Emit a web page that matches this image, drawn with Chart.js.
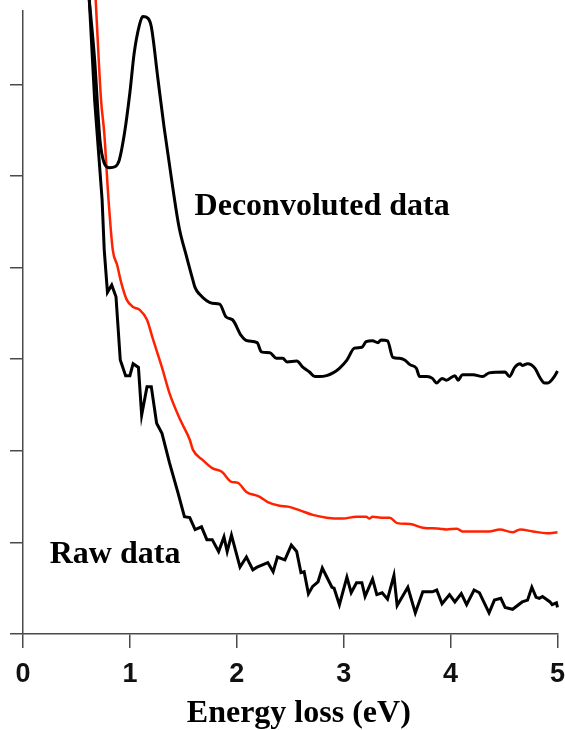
<!DOCTYPE html>
<html>
<head>
<meta charset="utf-8">
<script src="https://cdn.jsdelivr.net/npm/chart.js@4.4.1/dist/chart.umd.min.js"></script>
<style>
  html, body { margin: 0; padding: 0; background: #fff; }
  canvas { display: block; }
</style>
</head>
<body>
<canvas id="eels" width="565" height="730"></canvas>
<script>
// energy loss (eV) and intensity (arb. units)

const xTicks = [0, 1, 2, 3, 4, 5];

// deconvoluted spectrum (upper black)
const deconvE = [0.62, 0.67, 0.72, 0.76, 0.81, 0.86, 0.90, 0.95, 1.00, 1.04, 1.09, 1.12, 1.17, 1.20, 1.26, 1.32, 1.40, 1.46, 1.53, 1.59, 1.61, 1.65,
    1.77, 1.84, 1.90, 1.96, 2.04, 2.10, 2.19, 2.23, 2.31, 2.37, 2.43, 2.47, 2.56, 2.62, 2.68, 2.73, 2.77, 2.84, 2.90, 2.96,
    3.03, 3.10, 3.17, 3.21, 3.27, 3.32, 3.35, 3.41, 3.46, 3.52, 3.57, 3.62, 3.68, 3.71, 3.78, 3.83, 3.87, 3.92, 3.96,
    4.04, 4.07, 4.11, 4.21, 4.30, 4.36, 4.51, 4.55, 4.60, 4.65, 4.67, 4.72, 4.79, 4.83, 4.88, 4.91, 4.97, 5.00];
const deconvI = [6.92, 6.27, 5.39, 5.14, 5.09, 5.10, 5.17, 5.47, 5.91, 6.34, 6.65, 6.74, 6.72, 6.63, 6.08, 5.53, 4.88, 4.44, 4.12, 3.86, 3.78, 3.71,
    3.61, 3.60, 3.46, 3.43, 3.26, 3.20, 3.18, 3.08, 3.07, 3.01, 3.01, 2.97, 2.98, 2.91, 2.86, 2.81, 2.81, 2.82, 2.85, 2.90,
    2.99, 3.12, 3.13, 3.19, 3.20, 3.18, 3.21, 3.20, 3.02, 3.01, 2.99, 2.94, 2.90, 2.81, 2.81, 2.79, 2.74, 2.79, 2.77,
    2.82, 2.77, 2.83, 2.83, 2.81, 2.85, 2.86, 2.81, 2.91, 2.95, 2.93, 2.95, 2.90, 2.81, 2.74, 2.74, 2.81, 2.87];

// smoothed spectrum (red)
const smoothE = [0.68, 0.73, 0.76, 0.80, 0.84, 0.88, 0.92, 0.97, 1.03, 1.09, 1.16, 1.21, 1.30, 1.37, 1.47, 1.56, 1.59, 1.68, 1.77, 1.86, 1.95,
    2.01, 2.09, 2.21, 2.29, 2.40, 2.48, 2.59, 2.71, 2.84, 2.99, 3.12, 3.21, 3.24, 3.27, 3.35, 3.43, 3.50, 3.62, 3.74, 3.90,
    3.96, 4.06, 4.11, 4.21, 4.36, 4.46, 4.58, 4.65, 4.77, 4.90, 5.00];
const smoothI = [6.92, 5.83, 5.47, 4.74, 4.19, 4.03, 3.83, 3.65, 3.57, 3.54, 3.43, 3.24, 2.91, 2.63, 2.34, 2.12, 2.01, 1.90, 1.81, 1.77, 1.66,
    1.65, 1.55, 1.50, 1.44, 1.40, 1.39, 1.35, 1.30, 1.27, 1.26, 1.28, 1.28, 1.26, 1.28, 1.27, 1.27, 1.21, 1.20, 1.16, 1.15,
    1.14, 1.15, 1.12, 1.12, 1.12, 1.14, 1.11, 1.14, 1.12, 1.10, 1.11];

// raw spectrum (lower black)
const rawE = [0.62, 0.67, 0.74, 0.76, 0.79, 0.83, 0.87, 0.91, 0.96, 1.00, 1.03, 1.08, 1.11, 1.16, 1.20, 1.25, 1.30, 1.37, 1.45, 1.51, 1.56,
    1.61, 1.67, 1.72, 1.77, 1.83, 1.88, 1.91, 1.95, 2.03, 2.09, 2.15, 2.19, 2.29, 2.34, 2.38, 2.45, 2.51, 2.56, 2.60, 2.63,
    2.67, 2.71, 2.76, 2.80, 2.89, 2.91, 2.96, 3.03, 3.07, 3.12, 3.17, 3.20, 3.27, 3.31, 3.36, 3.41, 3.47, 3.50, 3.60, 3.67,
    3.74, 3.83, 3.87, 3.92, 3.99, 4.04, 4.10, 4.15, 4.22, 4.27, 4.36, 4.41, 4.47, 4.51, 4.58, 4.67, 4.72, 4.76, 4.80, 4.83,
    4.86, 4.93, 4.95, 4.99, 5.00];
const rawI = [6.92, 5.83, 4.74, 4.19, 3.73, 3.81, 3.68, 2.99, 2.82, 2.82, 2.95, 2.91, 2.39, 2.70, 2.70, 2.30, 2.19, 1.87, 1.54, 1.28, 1.27,
    1.14, 1.17, 1.03, 1.03, 0.90, 1.06, 0.90, 1.08, 0.73, 0.84, 0.70, 0.73, 0.78, 0.68, 0.84, 0.81, 0.97, 0.90, 0.67, 0.68,
    0.44, 0.52, 0.57, 0.72, 0.51, 0.50, 0.32, 0.62, 0.45, 0.56, 0.56, 0.41, 0.60, 0.43, 0.45, 0.38, 0.64, 0.31, 0.51, 0.23,
    0.46, 0.46, 0.48, 0.33, 0.43, 0.35, 0.44, 0.32, 0.48, 0.45, 0.23, 0.37, 0.39, 0.29, 0.27, 0.35, 0.37, 0.51, 0.40, 0.39,
    0.41, 0.35, 0.32, 0.34, 0.29];

// curve labels, placed in data units (left edge, baseline)
const labelText = ['Deconvoluted data', 'Raw data'];
const labelE = [1.605, 0.25];
const labelI = [4.57, 0.775];

const axisTitle = 'Energy loss (eV)';

function zip(xs, ys) {
    return xs.map((x, i) => ({ x: x, y: ys[i] }));
}

const axisColor = '#4a4a4a';
const serifBold = 'bold 32px "Liberation Serif", "Times New Roman", serif';

// draws the two curve labels and the x axis title
const curveLabels = {
    id: 'curveLabels',
    afterDatasetsDraw(chart) {
        const ctx = chart.ctx;
        const xs = chart.scales.x, ys = chart.scales.y;
        ctx.save();
        ctx.fillStyle = '#000';
        ctx.font = serifBold;
        ctx.textAlign = 'left';
        ctx.textBaseline = 'alphabetic';
        for (let i = 0; i < labelText.length; i++) {
            ctx.fillText(labelText[i], xs.getPixelForValue(labelE[i]), ys.getPixelForValue(labelI[i]));
        }
        // axis title sits a little right of the plot centre in the original
        ctx.textAlign = 'center';
        ctx.fillText(axisTitle, xs.getPixelForValue(2.58), chart.height - 8);
        ctx.restore();
    }
};

const ctx = document.getElementById('eels').getContext('2d');
const eelsChart = new Chart(ctx, {
    type: 'line',
    data: {
        datasets: [
            {
                label: 'Deconvoluted data',
                data: zip(deconvE, deconvI),
                borderColor: '#000',
                borderWidth: 3,
                pointRadius: 0,
                cubicInterpolationMode: 'monotone',
                clip: false
            },
            {
                label: 'Smoothed',
                data: zip(smoothE, smoothI),
                borderColor: '#ff2200',
                borderWidth: 2.5,
                pointRadius: 0,
                cubicInterpolationMode: 'monotone',
                clip: false
            },
            {
                label: 'Raw data',
                data: zip(rawE, rawI),
                borderColor: '#000',
                borderWidth: 3,
                pointRadius: 0,
                tension: 0,
                clip: false
            }
        ]
    },
    options: {
        responsive: false,
        animation: false,
        layout: { padding: { left: 10, right: 0, top: 11, bottom: 28 } },
        plugins: {
            legend: { display: false },
            tooltip: { enabled: false }
        },
        scales: {
            x: {
                type: 'linear',
                min: 0,
                max: 5,
                afterBuildTicks: (axis) => { axis.ticks = xTicks.map(v => ({ value: v })); },
                border: { color: axisColor, width: 1.5 },
                grid: { drawOnChartArea: false, drawTicks: true, tickLength: 14, color: axisColor, lineWidth: 1.5 },
                ticks: {
                    color: '#111',
                    padding: 0,
                    // tall line box pushes the digits down without widening the right overhang
                    font: { family: '"Liberation Sans", Arial, sans-serif', size: 27, weight: 'bold', lineHeight: 2 }
                }
            },
            y: {
                type: 'linear',
                min: 0,
                max: 6.8,
                border: { color: axisColor, width: 1.5 },
                grid: { drawOnChartArea: false, drawTicks: true, tickLength: 13, color: axisColor, lineWidth: 1.5 },
                ticks: { display: false, stepSize: 1, includeBounds: false }
            }
        }
    },
    plugins: [curveLabels]
});
</script>
</body>
</html>
